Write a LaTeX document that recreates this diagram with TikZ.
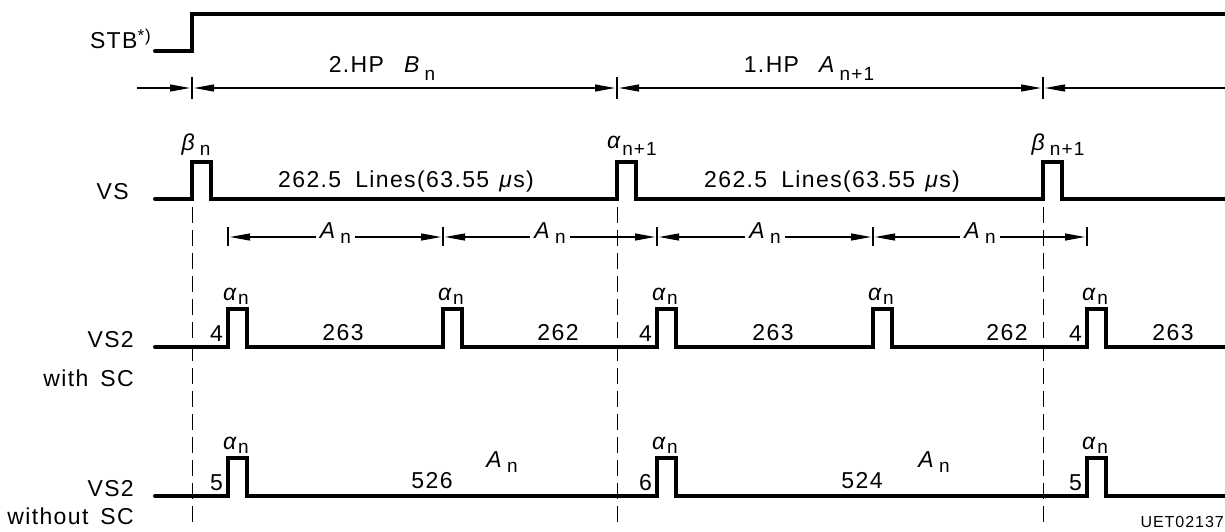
\documentclass[tikz,border=0pt]{standalone}
\usepackage{fontspec}
\setmainfont{Liberation Sans}[LetterSpace=6]
\usetikzlibrary{arrows.meta}
\newcommand{\lsub}[2][5pt]{\raisebox{-#1}{\fontsize{19pt}{19pt}\selectfont #2}}
\tikzset{
  lbl/.style={font=\fontsize{23pt}{23pt}\selectfont, inner sep=0pt},
  sig/.style={line width=4pt, line join=miter, line cap=round},
  thinln/.style={line width=1.2pt},
  dashln/.style={line width=1pt, dash pattern=on 16pt off 7pt},
  tip/.tip={Triangle[length=20pt,width=7pt]},
  dimln/.style={line width=1.2pt, shorten <=2pt, shorten >=2pt},
}
\begin{document}
\begin{tikzpicture}[x=1pt,y=-1pt]
\useasboundingbox (0,0) rectangle (1225,531);
\fill[white] (0,0) rectangle (1225,531);

% ---------- coordinates ----------
\foreach \n/\x in {a/192,b/617,c/1043}{
  \coordinate (hp\n) at (\x,88);
  \coordinate (dt\n) at (\x,207);
  \coordinate (db\n) at (\x,527);
}
\foreach \n/\x in {1/228,2/443,3/657,4/873,5/1087}{
  \coordinate (an\n) at (\x,237);
}
\coordinate (hpstart) at (137,88);
\coordinate (hpend) at (1230,88);

% ---------- signals ----------
\draw[sig] (155,51) -- (192,51) -- (192,14) -- (1232,14);
\draw[sig] (155,199) foreach \p in {192,617,1043}{ -- (\p,199) -- (\p,162) -- (\p+19,162) -- (\p+19,199)} -- (1232,199);
\draw[sig] (155,347) foreach \p in {228,443,657,873,1087}{ -- (\p,347) -- (\p,309) -- (\p+19,309) -- (\p+19,347)} -- (1232,347);
\draw[sig] (155,496) foreach \p in {228,657,1087}{ -- (\p,496) -- (\p,458) -- (\p+19,458) -- (\p+19,496)} -- (1232,496);

% ---------- dashed guides ----------
\foreach \n in {a,b,c}{ \draw[dashln] (dt\n) -- (db\n); }

% ---------- half-period dimension row ----------
\foreach \n in {a,b,c}{ \draw[thinln] ([yshift=-11pt]hp\n) -- ([yshift=11pt]hp\n); }
\draw[dimln,shorten <=0pt,-tip] (hpstart) -- (hpa);
\draw[dimln,tip-tip] (hpa) -- (hpb);
\draw[dimln,tip-tip] (hpb) -- (hpc);
\draw[dimln,shorten >=0pt,tip-] (hpc) -- (hpend);
\node[lbl,anchor=base] (hp2) at (382,72) {2.HP\hspace{20pt}\textit{B}\,\lsub[8pt]{n}};
\node[lbl,anchor=base] (hp1) at (809,72) {1.HP\hspace{20pt}\textit{A}\,\lsub[8pt]{n+1}};

% ---------- A_n dimension row ----------
\foreach \n in {1,...,5}{ \draw[thinln] ([yshift=-9pt]an\n) -- ([yshift=10pt]an\n); }
\foreach \a/\b in {1/2,2/3,3/4,4/5}{
  \draw[dimln,tip-tip] (an\a) -- node[lbl,fill=white,inner xsep=4pt,inner ysep=1pt,yshift=4pt] (anl\a) {\textit{A}\,\lsub{n}} (an\b);
}

% ---------- left labels ----------
\node[lbl,anchor=base east] (stb) at (151,48) {STB\raisebox{7pt}{\fontsize{17pt}{17pt}\selectfont *)}};
\node[lbl,anchor=base east] (vs) at (129,199) {VS};
\node[lbl,anchor=base east] (vs2a) at (134,347) {VS2};
\node[lbl,anchor=base east] (vs2b) at (134,386) {with\hspace{12pt}SC};
\node[lbl,anchor=base east] (vs2c) at (134,496) {VS2};
\node[lbl,anchor=base east] (vs2d) at (134,524) {without\hspace{12pt}SC};

% ---------- VS labels ----------
\node[lbl,anchor=base] (beta1) at (196,150) {\textit{β}\,\lsub{n}};
\node[lbl,anchor=base] (alpha1) at (632,148) {\textit{α}\lsub[7pt]{n+1}};
\node[lbl,anchor=base] (beta2) at (1058,150) {\textit{β}\,\lsub[5pt]{n+1}};
\node[lbl,anchor=base] (lines1) at (406,187) {262.5\hspace{14pt}Lines(63.55\hspace{10pt}\textit{μ}s)};
\node[lbl,anchor=base] (lines2) at (832,187) {262.5\hspace{14pt}Lines(63.55\hspace{10pt}\textit{μ}s)};

% ---------- VS2 with SC labels ----------
\foreach \p [count=\i] in {228,443,657,873,1087}{
  \node[lbl,anchor=base] (aw\i) at (\p+8,300) {\textit{α}\lsub[4pt]{n}};
}
\foreach \p/\t [count=\i] in {223/4,652/4,1082/4}{
  \node[lbl,anchor=base east] (fw\i) at (\p,341) {\t};
}
\foreach \x/\t [count=\i] in {343/263,558/262,773/263,1007/262,1173/263}{
  \node[lbl,anchor=base] (nw\i) at (\x,340) {\t};
}

% ---------- VS2 without SC labels ----------
\foreach \p [count=\i] in {228,657,1087}{
  \node[lbl,anchor=base] (ao\i) at (\p+8,449) {\textit{α}\lsub[4pt]{n}};
}
\foreach \p/\t [count=\i] in {223/5,652/6,1082/5}{
  \node[lbl,anchor=base east] (fo\i) at (\p,490) {\t};
}
\node[lbl,anchor=base] (n526) at (432,488) {526};
\node[lbl,anchor=base] (n524) at (862,488) {524};
\node[lbl,anchor=base] (ao4) at (502,467) {\textit{A}\,\lsub{n}};
\node[lbl,anchor=base] (ao5) at (934,467) {\textit{A}\,\lsub{n}};

% ---------- figure code ----------
\node[font=\fontsize{16pt}{16pt}\selectfont, inner sep=0pt, anchor=base east] (code) at (1224,527) {UET02137};
\end{tikzpicture}
\end{document}
